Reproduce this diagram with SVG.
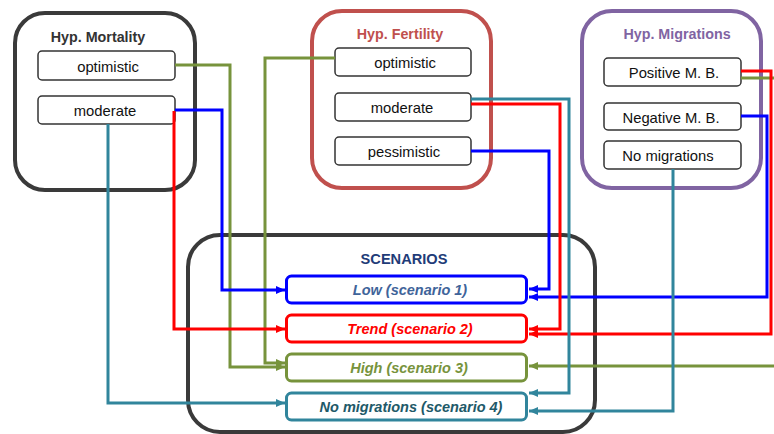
<svg xmlns="http://www.w3.org/2000/svg" width="774" height="434" viewBox="0 0 774 434">
<style>
.grp{fill:#fff;stroke-width:4}
.box{fill:#fff;stroke:#333;stroke-width:1.5}
.t{font-family:"Liberation Sans",Arial,sans-serif;font-size:14.8px;fill:#111;text-anchor:middle}
.h{font-family:"Liberation Sans",Arial,sans-serif;font-size:14.3px;font-weight:bold;text-anchor:middle}
.s{font-family:"Liberation Sans",Arial,sans-serif;font-size:14.5px;font-weight:bold;font-style:italic;text-anchor:middle}
.sc{fill:#fff;stroke-width:3}
.c{fill:none;stroke-width:3}
</style>
<defs>
<marker id="aB" markerUnits="userSpaceOnUse" markerWidth="9" markerHeight="8" refX="9" refY="4" orient="auto"><path d="M0,0 L9,4 L0,8 Z" fill="#0000ff"/></marker>
<marker id="aR" markerUnits="userSpaceOnUse" markerWidth="9" markerHeight="8" refX="9" refY="4" orient="auto"><path d="M0,0 L9,4 L0,8 Z" fill="#ff0000"/></marker>
<marker id="aG" markerUnits="userSpaceOnUse" markerWidth="9" markerHeight="8" refX="9" refY="4" orient="auto"><path d="M0,0 L9,4 L0,8 Z" fill="#77933c"/></marker>
<marker id="aT" markerUnits="userSpaceOnUse" markerWidth="9" markerHeight="8" refX="9" refY="4" orient="auto"><path d="M0,0 L9,4 L0,8 Z" fill="#31859c"/></marker>
</defs>

<g id="mortality">
<rect class="grp" x="15" y="13" width="180" height="177" rx="30" stroke="#3a3a3a"/>
<text class="h" x="98" y="42" fill="#333">Hyp. Mortality</text>
</g>
<g id="mort-optimistic"><rect class="box" x="38" y="51" width="137" height="29" rx="4"/><text class="t" x="108" y="71.5">optimistic</text></g>
<g id="mort-moderate"><rect class="box" x="38" y="96" width="137" height="28" rx="4"/><text class="t" x="105" y="116">moderate</text></g>

<g id="fertility">
<rect class="grp" x="312" y="11" width="179" height="177" rx="30" stroke="#c0504d"/>
<text class="h" x="400" y="38.5" fill="#c0504d">Hyp. Fertility</text>
</g>
<g id="fert-optimistic"><rect class="box" x="335" y="48" width="136" height="28" rx="4"/><text class="t" x="405" y="68">optimistic</text></g>
<g id="fert-moderate"><rect class="box" x="335" y="93" width="136" height="28" rx="4"/><text class="t" x="402" y="113">moderate</text></g>
<g id="fert-pessimistic"><rect class="box" x="335" y="137" width="136" height="28" rx="4"/><text class="t" x="404" y="157">pessimistic</text></g>

<g id="migrations">
<rect class="grp" x="582" y="11" width="179" height="177" rx="30" stroke="#8064a2"/>
<text class="h" x="677" y="38.5" fill="#8064a2">Hyp. Migrations</text>
</g>
<g id="mig-positive"><rect class="box" x="604" y="58" width="137" height="28" rx="4"/><text class="t" x="674" y="78">Positive M. B.</text></g>
<g id="mig-negative"><rect class="box" x="604" y="103" width="137" height="27" rx="4"/><text class="t" x="671" y="122.5">Negative M. B.</text></g>
<g id="mig-none"><rect class="box" x="604" y="141" width="137" height="28" rx="4"/><text class="t" x="668" y="161">No migrations</text></g>

<g id="scenarios">
<rect class="grp" x="188" y="235" width="407" height="197" rx="32" stroke="#3a3a3a"/>
<text class="h" x="404" y="264" fill="#1f3c78" style="font-size:14.6px">SCENARIOS</text>
</g>

<g id="connectors">
<path class="c" stroke="#77933c" d="M175,65 H230 V367 H285" marker-end="url(#aG)"/>
<path class="c" stroke="#77933c" d="M335,58 H265 V363 H285" marker-end="url(#aG)"/>
<path class="c" stroke="#77933c" d="M741,78 H790 V366 H529" marker-end="url(#aG)"/>
<path class="c" stroke="#0000ff" d="M175,110 H222 V290 H285" marker-end="url(#aB)"/>
<path class="c" stroke="#0000ff" d="M471,151 H549 V289 H529" marker-end="url(#aB)"/>
<path class="c" stroke="#0000ff" d="M741,116 H767 V297 H529" marker-end="url(#aB)"/>
<path class="c" stroke="#ff0000" d="M174,111 V329 H285" marker-end="url(#aR)"/>
<path class="c" stroke="#ff0000" d="M471,104 H560 V329 H529" marker-end="url(#aR)"/>
<path class="c" stroke="#ff0000" d="M741,71 H771 V334 H529" marker-end="url(#aR)"/>
<path class="c" stroke="#31859c" d="M108,124 V403 H285" marker-end="url(#aT)"/>
<path class="c" stroke="#31859c" d="M471,99 H569 V393 H529" marker-end="url(#aT)"/>
<path class="c" stroke="#31859c" d="M673,169 V411 H529" marker-end="url(#aT)"/>
</g>

<g id="sc-low"><rect class="sc" x="286.5" y="276" width="240" height="27" rx="5" stroke="#0000ff"/><text class="s" x="410" y="295" fill="#3f649a">Low (scenario 1)</text></g>
<g id="sc-trend"><rect class="sc" x="286.5" y="315" width="240" height="27" rx="5" stroke="#ff0000"/><text class="s" x="410" y="334" fill="#ff0000">Trend (scenario 2)</text></g>
<g id="sc-high"><rect class="sc" x="286.5" y="354" width="240" height="27" rx="5" stroke="#77933c"/><text class="s" x="409" y="373" fill="#77933c">High (scenario 3)</text></g>
<g id="sc-nomig"><rect class="sc" x="286.5" y="393" width="240" height="27" rx="5" stroke="#31859c"/><text class="s" x="411" y="412" fill="#215968">No migrations (scenario 4)</text></g>
</svg>
